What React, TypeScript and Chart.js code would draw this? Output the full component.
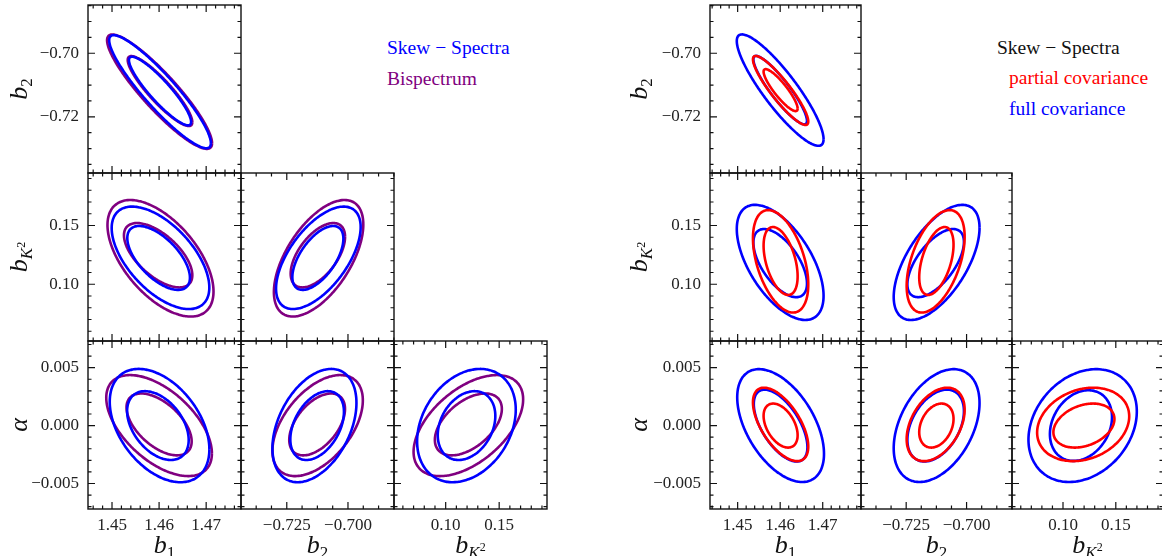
import { useEffect, useRef } from "react";
import { Chart, registerables } from "chart.js";
Chart.register(...registerables);

// ---------- axis ranges / ticks ----------
const B1_RANGE_LEFT = [1.4449, 1.4774];
const B1_RANGE_RIGHT = [1.4435, 1.479];
const B2X_RANGE = [-0.7437, -0.6812];
const B2Y_RANGE = [-0.7377, -0.6848];
const BK2_RANGE = [0.0517, 0.1947];
const ALPHA_RANGE = [-0.0072, 0.0073];

const B1_TICKS = [1.45, 1.46, 1.47];
const B2X_TICKS = [-0.725, -0.7];
const B2Y_TICKS = [-0.72, -0.7];
const BK2_TICKS = [0.1, 0.15];
const ALPHA_TICKS = [-0.005, 0, 0.005];

const B1_MINOR = 0.002;
const B2X_MINOR = 0.00625;
const B2Y_MINOR = 0.005;
const BK2_MINOR = 0.01;
const ALPHA_MINOR = 0.001;

// ---------- contours: [centreX, centreY, halfExtentX, halfExtentY, correlation]; outer first ----------
// Left: Skew-Spectra (blue) vs Bispectrum (purple)
const L_SKEW_B1_B2 = [[1.4602, -0.7121, 0.0108, 0.0178, -0.91], [1.4602, -0.7119, 0.0066, 0.0108, -0.9]];
const L_BISP_B1_B2 = [[1.4601, -0.7121, 0.01115, 0.018, -0.9], [1.4602, -0.7119, 0.00686, 0.011, -0.89]];
const L_SKEW_B1_BK2 = [[1.4603, 0.1225, 0.01037, 0.0436, -0.58], [1.4599, 0.1224, 0.00665, 0.0272, -0.62]];
const L_BISP_B1_BK2 = [[1.4603, 0.1221, 0.01126, 0.0496, -0.57], [1.4598, 0.1247, 0.00726, 0.0274, -0.62]];
const L_SKEW_B2_BK2 = [[-0.7121, 0.1225, 0.01728, 0.0436, 0.6], [-0.7123, 0.1224, 0.01042, 0.0272, 0.6]];
const L_BISP_B2_BK2 = [[-0.712, 0.1221, 0.01826, 0.0496, 0.58], [-0.7123, 0.1247, 0.01111, 0.0274, 0.57]];
const L_SKEW_B1_AL = [[1.4601, 0.0, 0.01058, 0.00489, -0.42], [1.45975, 0.0, 0.00654, 0.00297, -0.42]];
const L_BISP_B1_AL = [[1.46, 0.0, 0.01122, 0.00436, -0.55], [1.46, 0.0001, 0.00692, 0.00267, -0.55]];
const L_SKEW_B2_AL = [[-0.7137, 0.0, 0.01716, 0.00489, 0.4], [-0.7126, 0.0, 0.01095, 0.00297, 0.4]];
const L_BISP_B2_AL = [[-0.7124, 0.0, 0.01847, 0.00436, 0.5], [-0.7126, 0.0001, 0.01139, 0.00267, 0.5]];
const L_SKEW_BK2_AL = [[0.1194, 0.0, 0.0461, 0.00489, 0.28], [0.1195, 0.0, 0.0269, 0.00297, 0.28]];
const L_BISP_BK2_AL = [[0.1212, 0.0, 0.0512, 0.00436, 0.52], [0.1212, 0.0001, 0.0313, 0.00267, 0.5]];

// Right: partial covariance (red) vs full covariance (blue)
const R_PART_B1_B2 = [[1.4601, -0.7117, 0.0065, 0.01086, -0.9], [1.4601, -0.7116, 0.004, 0.00661, -0.88]];
const R_FULL_B1_B2 = [[1.46, -0.7116, 0.0102, 0.01754, -0.88], [1.46, -0.7116, 0.0063, 0.01077, -0.9]];
const R_PART_B1_BK2 = [[1.4601, 0.1195, 0.0065, 0.0436, -0.45], [1.4601, 0.1198, 0.004, 0.0289, -0.45]];
const R_FULL_B1_BK2 = [[1.46, 0.1186, 0.0102, 0.049, -0.58], [1.46, 0.118, 0.0063, 0.029, -0.6]];
const R_PART_B2_BK2 = [[-0.7128, 0.1195, 0.012, 0.0436, 0.48], [-0.7125, 0.1198, 0.0071, 0.0289, 0.48]];
const R_FULL_B2_BK2 = [[-0.7124, 0.1186, 0.01776, 0.049, 0.6], [-0.7128, 0.118, 0.0117, 0.029, 0.62]];
const R_PART_B1_AL = [[1.4601, 0.0001, 0.0065, 0.00317, -0.6], [1.4601, 0.0, 0.004, 0.0019, -0.44]];
const R_FULL_B1_AL = [[1.4601, 0.0, 0.0102, 0.00487, -0.5], [1.4601, 0.0, 0.0063, 0.0031, -0.6]];
const R_PART_B2_AL = [[-0.7128, 0.0001, 0.012, 0.00317, 0.4], [-0.7125, 0.0, 0.0071, 0.0019, 0.3]];
const R_FULL_B2_AL = [[-0.7124, 0.0, 0.01776, 0.00487, 0.4], [-0.7128, 0.0, 0.0117, 0.0031, 0.4]];
const R_PART_BK2_AL = [[0.1191, 0.0001, 0.0436, 0.00317, 0.22], [0.1198, 0.0, 0.0289, 0.0019, 0.3]];
const R_FULL_BK2_AL = [[0.1186, 0.0, 0.0513, 0.00487, 0.25], [0.117, 0.0, 0.0294, 0.00305, 0.24]];

// ---------- styling / layout ----------
const SERIF = '"Liberation Serif", "DejaVu Serif", serif';
const BLUE = "#0000ff";
const PURPLE = "#800080";
const RED = "#ff0000";
const LM = 80;
const BM = 34;
const TM = 2;
const RM = 2;
const ROW_Y = [5, 173, 341];
const ROW_H = 168;
const LEFT_COLS = [88, 241, 394];
const LEFT_W = 153;
const RIGHT_COLS = [710, 861, 1012];
const RIGHT_W = 151;

type Axis = { range: number[]; ticks: number[]; minor: number; dec: number };
const B1L: Axis = { range: B1_RANGE_LEFT, ticks: B1_TICKS, minor: B1_MINOR, dec: 2 };
const B1R: Axis = { range: B1_RANGE_RIGHT, ticks: B1_TICKS, minor: B1_MINOR, dec: 2 };
const B2X: Axis = { range: B2X_RANGE, ticks: B2X_TICKS, minor: B2X_MINOR, dec: 3 };
const B2Y: Axis = { range: B2Y_RANGE, ticks: B2Y_TICKS, minor: B2Y_MINOR, dec: 2 };
const BK2: Axis = { range: BK2_RANGE, ticks: BK2_TICKS, minor: BK2_MINOR, dec: 2 };
const ALP: Axis = { range: ALPHA_RANGE, ticks: ALPHA_TICKS, minor: ALPHA_MINOR, dec: 3 };

function fmt(v: number, dec: number) {
  const s = Math.abs(v).toFixed(dec);
  return v < -1e-12 ? "\u2212" + s : s;
}

function ellipsePoints(c: number[]) {
  const [cx, cy, hx, hy, rho] = c;
  const s = Math.sqrt(1 - rho * rho);
  const pts: { x: number; y: number }[] = [];
  const n = 160;
  for (let i = 0; i <= n; i++) {
    const t = (i / n) * 2 * Math.PI;
    pts.push({ x: cx + hx * Math.cos(t), y: cy + hy * (rho * Math.cos(t) + s * Math.sin(t)) });
  }
  return pts;
}

type Series = { contours: number[][]; color: string };
type PanelSpec = {
  left: number; top: number; w: number; h: number;
  x: Axis; y: Axis; showX: boolean; showY: boolean; series: Series[];
};

function minorValues(ax: Axis) {
  const out: number[] = [];
  const [mn, mx] = ax.range;
  const i0 = Math.ceil(mn / ax.minor - 1e-9);
  const i1 = Math.floor(mx / ax.minor + 1e-9);
  for (let i = i0; i <= i1; i++) {
    const v = i * ax.minor;
    if (ax.ticks.some((t) => Math.abs(t - v) < ax.minor * 0.05)) continue;
    out.push(v);
  }
  return out;
}

function makeTickPlugin(spec: PanelSpec) {
  return {
    id: "innerTicks",
    afterDatasetsDraw(chart: any) {
      const { ctx, chartArea } = chart;
      const { left, right, top, bottom } = chartArea;
      const xs = chart.scales.x;
      const ys = chart.scales.y;
      ctx.save();
      ctx.strokeStyle = "#111";
      ctx.lineWidth = 1.2;
      const MAJ = 7;
      const MIN = 3.5;
      const drawX = (v: number, len: number) => {
        const p = xs.getPixelForValue(v);
        ctx.beginPath();
        ctx.moveTo(p, bottom);
        ctx.lineTo(p, bottom - len);
        ctx.moveTo(p, top);
        ctx.lineTo(p, top + len);
        ctx.stroke();
      };
      const drawY = (v: number, len: number) => {
        const p = ys.getPixelForValue(v);
        ctx.beginPath();
        ctx.moveTo(left, p);
        ctx.lineTo(left + len, p);
        ctx.moveTo(right, p);
        ctx.lineTo(right - len, p);
        ctx.stroke();
      };
      spec.x.ticks.forEach((v) => drawX(v, MAJ));
      minorValues(spec.x).forEach((v) => drawX(v, MIN));
      spec.y.ticks.forEach((v) => drawY(v, MAJ));
      minorValues(spec.y).forEach((v) => drawY(v, MIN));
      ctx.lineWidth = 1.4;
      ctx.strokeRect(left, top, right - left, bottom - top);
      ctx.restore();
    },
  };
}

function axisOptions(ax: Axis, show: boolean, isX: boolean) {
  return {
    type: "linear",
    position: isX ? "bottom" : "left",
    min: ax.range[0],
    max: ax.range[1],
    afterBuildTicks: (s: any) => {
      s.ticks = ax.ticks.map((v) => ({ value: v }));
    },
    afterFit: (s: any) => {
      if (isX) s.height = BM;
      else s.width = LM;
      s.paddingTop = 0;
      s.paddingBottom = 0;
      s.paddingLeft = 0;
      s.paddingRight = 0;
    },
    grid: { display: false, drawTicks: false },
    border: { display: false },
    ticks: {
      display: show,
      autoSkip: false,
      maxRotation: 0,
      minRotation: 0,
      padding: isX ? 6 : 9,
      color: "#222",
      font: { family: SERIF, size: 17 },
      callback: (v: number) => fmt(v, ax.dec),
    },
  };
}

function Panel({ spec }: { spec: PanelSpec }) {
  const ref = useRef<HTMLCanvasElement>(null);
  const cw = spec.w + LM + RM;
  const ch = spec.h + TM + BM;
  useEffect(() => {
    const datasets: any[] = [];
    spec.series.forEach((s) => {
      s.contours.forEach((c) => {
        datasets.push({
          data: ellipsePoints(c),
          showLine: true,
          borderColor: s.color,
          borderWidth: 2.6,
          pointRadius: 0,
          fill: false,
          tension: 0.2,
        });
      });
    });
    const chart = new Chart(ref.current as HTMLCanvasElement, {
      type: "scatter",
      data: { datasets },
      options: {
        animation: false,
        responsive: false,
        maintainAspectRatio: false,
        events: [],
        layout: { padding: { left: 0, top: TM, right: RM, bottom: 0 }, autoPadding: false },
        plugins: { legend: { display: false }, tooltip: { enabled: false }, title: { display: false } },
        scales: {
          x: axisOptions(spec.x, spec.showX, true),
          y: axisOptions(spec.y, spec.showY, false),
        },
      } as any,
      plugins: [makeTickPlugin(spec)],
    });
    return () => chart.destroy();
  }, []);
  return (
    <canvas
      ref={ref}
      width={cw}
      height={ch}
      style={{ position: "absolute", left: spec.left - LM, top: spec.top - TM, width: cw, height: ch }}
    />
  );
}

function buildPanels(
  cols: number[], w: number, b1: Axis,
  sets: Series[][][]
): PanelSpec[] {
  const xAxes = [b1, B2X, BK2];
  const yAxes = [B2Y, BK2, ALP];
  const out: PanelSpec[] = [];
  for (let r = 0; r < 3; r++) {
    for (let c = 0; c <= r; c++) {
      out.push({
        left: cols[c], top: ROW_Y[r], w, h: ROW_H,
        x: xAxes[c], y: yAxes[r],
        showX: r === 2, showY: c === 0,
        series: sets[r][c],
      });
    }
  }
  return out;
}

const sk = (c: number[][]): Series => ({ contours: c, color: BLUE });
const bi = (c: number[][]): Series => ({ contours: c, color: PURPLE });
const pa = (c: number[][]): Series => ({ contours: c, color: RED });
const fu = (c: number[][]): Series => ({ contours: c, color: BLUE });

const LEFT_PANELS = buildPanels(LEFT_COLS, LEFT_W, B1L, [
  [[sk(L_SKEW_B1_B2), bi(L_BISP_B1_B2)]],
  [[sk(L_SKEW_B1_BK2), bi(L_BISP_B1_BK2)], [sk(L_SKEW_B2_BK2), bi(L_BISP_B2_BK2)]],
  [[sk(L_SKEW_B1_AL), bi(L_BISP_B1_AL)], [sk(L_SKEW_B2_AL), bi(L_BISP_B2_AL)], [sk(L_SKEW_BK2_AL), bi(L_BISP_BK2_AL)]],
]);
const RIGHT_PANELS = buildPanels(RIGHT_COLS, RIGHT_W, B1R, [
  [[pa(R_PART_B1_B2), fu(R_FULL_B1_B2)]],
  [[pa(R_PART_B1_BK2), fu(R_FULL_B1_BK2)], [pa(R_PART_B2_BK2), fu(R_FULL_B2_BK2)]],
  [[pa(R_PART_B1_AL), fu(R_FULL_B1_AL)], [pa(R_PART_B2_AL), fu(R_FULL_B2_AL)], [pa(R_PART_BK2_AL), fu(R_FULL_BK2_AL)]],
]);

const Sub = ({ children }: { children: any }) => (
  <span style={{ fontSize: 17, position: "relative", top: 5 }}>{children}</span>
);
const BK2Label = () => (
  <>
    <i>b</i>
    <Sub>
      <i>K</i>
      <span style={{ fontSize: 12, position: "relative", top: -7 }}>2</span>
    </Sub>
  </>
);

function Title({ x, y, rot, children }: { x: number; y: number; rot?: boolean; children: any }) {
  return (
    <div
      style={{
        position: "absolute", left: x, top: y,
        transform: `translate(-50%, -50%)${rot ? " rotate(-90deg)" : ""}`,
        fontFamily: SERIF, fontSize: 26, lineHeight: 1, whiteSpace: "nowrap", color: "#111",
      }}
    >
      {children}
    </div>
  );
}

function Legend({ x, y, color, text }: { x: number; y: number; color: string; text: string }) {
  return (
    <div
      style={{
        position: "absolute", left: x, top: y, transform: "translateY(-50%)",
        fontFamily: SERIF, fontSize: 19.5, lineHeight: 1, whiteSpace: "nowrap", color,
      }}
    >
      {text}
    </div>
  );
}

function Titles({ cols, w, yx }: { cols: number[]; w: number; yx: number }) {
  const cx = cols.map((c) => c + w / 2);
  const ry = ROW_Y.map((r) => r + ROW_H / 2);
  return (
    <>
      <Title x={yx} y={ry[0]} rot><i>b</i><Sub>2</Sub></Title>
      <Title x={yx} y={ry[1]} rot><BK2Label /></Title>
      <Title x={yx} y={ry[2]} rot><i>α</i></Title>
      <Title x={cx[0]} y={545}><i>b</i><Sub>1</Sub></Title>
      <Title x={cx[1]} y={545}><i>b</i><Sub>2</Sub></Title>
      <Title x={cx[2]} y={545}><BK2Label /></Title>
    </>
  );
}

export default function App() {
  return (
    <div style={{ position: "absolute", left: 0, top: 0, width: 1162, height: 556, background: "#fff", overflow: "hidden" }}>
      {LEFT_PANELS.map((p, i) => <Panel key={"l" + i} spec={p} />)}
      {RIGHT_PANELS.map((p, i) => <Panel key={"r" + i} spec={p} />)}
      <Titles cols={LEFT_COLS} w={LEFT_W} yx={19} />
      <Titles cols={RIGHT_COLS} w={RIGHT_W} yx={639} />
      <Legend x={387} y={48} color={BLUE} text={"Skew \u2212 Spectra"} />
      <Legend x={387} y={79} color={PURPLE} text="Bispectrum" />
      <Legend x={997} y={48} color="#111" text={"Skew \u2212 Spectra"} />
      <Legend x={1009} y={78} color={RED} text="partial covariance" />
      <Legend x={1009} y={109} color={BLUE} text="full covariance" />
    </div>
  );
}
